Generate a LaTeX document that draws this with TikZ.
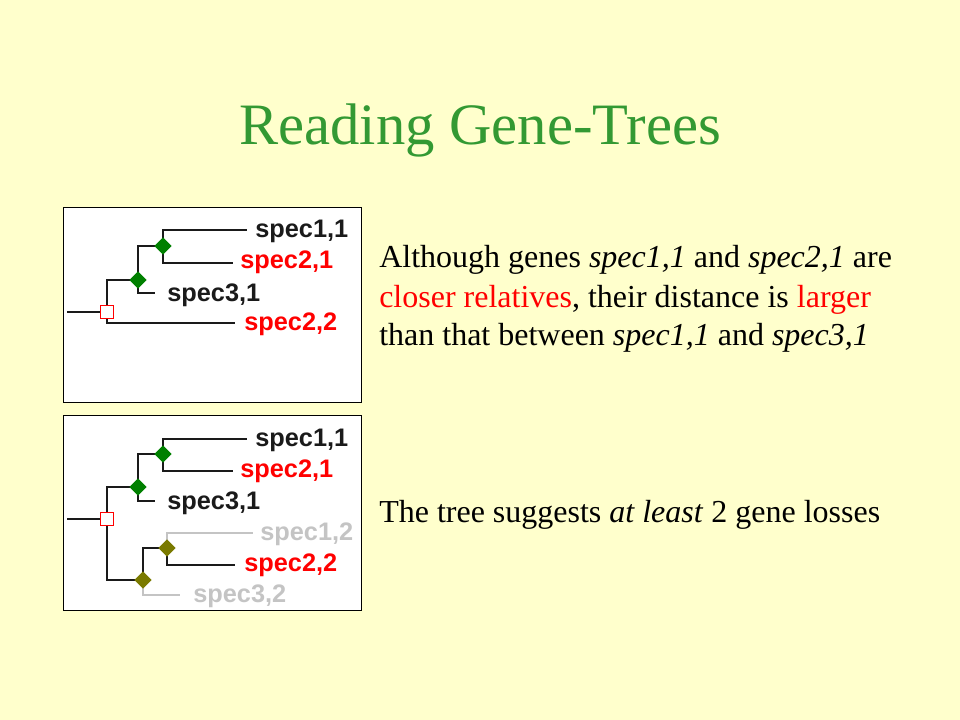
\documentclass[tikz,border=0pt]{standalone}
\usepackage{fontspec}
\setmainfont{Liberation Serif}
\newfontfamily\treefont{Liberation Sans}
\usetikzlibrary{shapes.geometric}
\definecolor{bgc}{HTML}{FFFFCC}
\definecolor{ttl}{HTML}{339933}
\definecolor{rd}{HTML}{FF0000}
\definecolor{dgreen}{HTML}{008000}
\definecolor{olivd}{HTML}{7A7A00}
\definecolor{lgrey}{HTML}{C4C4C4}
\definecolor{ink}{HTML}{1A1A1A}
\tikzset{
  branch/.style={draw=ink, line width=1.6pt},
  lost/.style={draw=lgrey, line width=1.6pt},
  specnode/.style={diamond, fill=dgreen, inner sep=0pt, minimum width=13pt, minimum height=13pt},
  oldspec/.style={specnode, fill=olivd},
  dupnode/.style={rectangle, draw=rd, fill=white, line width=1.1pt, inner sep=0pt, minimum size=9.5pt},
  leaf/.style={font=\treefont\bfseries\fontsize{19}{19}\selectfont, anchor=base west, inner sep=0pt, text=ink},
  panel/.style={draw=black, fill=white, line width=0.75pt, anchor=north west, inner sep=0pt},
  body/.style={font=\fontsize{24}{28.8}\selectfont, anchor=base west, inner sep=0pt},
}
\begin{document}
\begin{tikzpicture}[x=0.75pt,y=-0.75pt]
\fill[bgc] (0,0) rectangle (960,720);
\useasboundingbox (0,0) rectangle (960,720);

\node[font=\fontsize{44}{52}\selectfont, text=ttl, anchor=base, inner sep=0pt] (title) at (480,145) {Reading Gene-Trees};

% panels
\node[panel, minimum width=223.5pt, minimum height=146.25pt] (panelA) at (63,207) {};
\node[panel, minimum width=223.5pt, minimum height=146.25pt] (panelB) at (63,415) {};

% ---------- tree 1 ----------
\coordinate (r1) at (67,312);
\coordinate (q1) at (107,312);
\coordinate (a1) at (138,280);
\coordinate (b1) at (163,246);
\coordinate (e11a) at (247,230);
\coordinate (e21a) at (233,263);
\coordinate (e31a) at (155,293);
\coordinate (e22a) at (235,323);
\draw[branch] (r1) -- (q1);
\draw[branch] (q1) |- (a1);
\draw[branch] (q1) |- (e22a);
\draw[branch] (a1) |- (b1);
\draw[branch] (a1) |- (e31a);
\draw[branch] (b1) |- (e11a);
\draw[branch] (b1) |- (e21a);
\node[dupnode] (Q1) at (q1) {};
\node[specnode] (A1) at (a1) {};
\node[specnode] (B1) at (b1) {};
\node[leaf] (s11a) at (255,238) {spec1,1};
\node[leaf, text=rd] (s21a) at (240,269) {spec2,1};
\node[leaf] (s31a) at (167,301) {spec3,1};
\node[leaf, text=rd] (s22a) at (244,330) {spec2,2};

% ---------- tree 2 ----------
\coordinate (r2) at (67,519);
\coordinate (q2) at (107,519);
\coordinate (a2) at (138,487);
\coordinate (b2) at (163,454);
\coordinate (c2) at (143,580);
\coordinate (d2) at (167,548);
\coordinate (e11b) at (247,439);
\coordinate (e21b) at (233,471);
\coordinate (e31b) at (155,501);
\coordinate (e12b) at (253,533);
\coordinate (e22b) at (235,565);
\coordinate (e32b) at (180,595);
\draw[lost] (d2) |- (e12b);
\draw[lost] (c2) |- (e32b);
\draw[branch] (r2) -- (q2);
\draw[branch] (q2) |- (a2);
\draw[branch] (q2) |- (c2);
\draw[branch] (a2) |- (b2);
\draw[branch] (a2) |- (e31b);
\draw[branch] (b2) |- (e11b);
\draw[branch] (b2) |- (e21b);
\draw[branch] (c2) |- (d2);
\draw[branch] (d2) |- (e22b);
\node[dupnode] (Q2) at (q2) {};
\node[specnode] (A2) at (a2) {};
\node[specnode] (B2) at (b2) {};
\node[oldspec] (C2) at (c2) {};
\node[oldspec] (D2) at (d2) {};
\node[leaf] (s11b) at (255,446) {spec1,1};
\node[leaf, text=rd] (s21b) at (240,477) {spec2,1};
\node[leaf] (s31b) at (167,509) {spec3,1};
\node[leaf, text=lgrey] (s12b) at (260,540) {spec1,2};
\node[leaf, text=rd] (s22b) at (244,571) {spec2,2};
\node[leaf, text=lgrey] (s32b) at (193,602) {spec3,2};

% ---------- text ----------
\node[body] (t1) at (379,268) {Although genes \textit{spec1,1} and \textit{spec2,1} are};
\node[body] (t2) at (379,307) {\textcolor{rd}{closer relatives}, their distance is \textcolor{rd}{larger}};
\node[body] (t3) at (379,345) {than that between \textit{spec1,1} and \textit{spec3,1}};
\node[body] (t4) at (379,522) {The tree suggests \textit{at least} 2 gene losses};
\end{tikzpicture}
\end{document}
